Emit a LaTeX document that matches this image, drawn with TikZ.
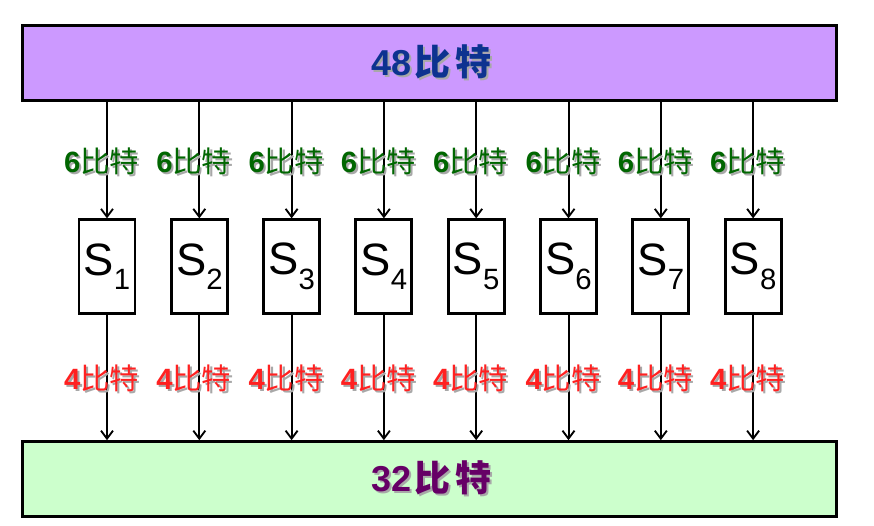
\documentclass[tikz,border=0pt]{standalone}
\usepackage{fontspec}
\setmainfont{Liberation Sans}
\newfontfamily\cjk{Noto Sans CJK SC}
\usetikzlibrary{arrows.meta}
\definecolor{topfill}{HTML}{CC99FF}
\definecolor{botfill}{HTML}{CCFFCC}
\definecolor{titleblue}{HTML}{0D3290}
\definecolor{titlepurple}{HTML}{660066}
\definecolor{lblgreen}{HTML}{006600}
\definecolor{lblred}{HTML}{FF2020}
\definecolor{shadowgray}{HTML}{A8A8A8}
\tikzset{
  bigbox/.style={draw=black, line width=2.2pt, minimum width=610.5pt, minimum height=56pt, inner sep=0pt},
  sbox/.style={draw=black, line width=2.2pt, fill=white, minimum width=42pt, minimum height=70pt, inner sep=0pt, font=\fontsize{34}{36}\selectfont},
  conn/.style={line width=1.5pt, -{Straight Barb[length=6pt,width=9pt,line width=1.4pt]}},
  lbl/.style={inner sep=0pt, font=\fontsize{22}{24}\selectfont},
  title/.style={inner sep=0pt, font=\fontsize{27}{29}\selectfont},
}
% text with a soft grey drop shadow, in one node
\newcommand{\shadowed}[2]{\makebox[0pt][l]{\hspace{1.6pt}\raisebox{-1.6pt}{\textcolor{shadowgray}{#2}}}\textcolor{#1}{#2}}
\newcommand{\bits}[1]{{\bfseries #1}{\cjk 比特}}
\newcommand{\tbits}[1]{{\bfseries #1}\hspace{2pt}{\cjk\bfseries 比\hspace{4pt}特}}
\begin{document}
\begin{tikzpicture}[x=0.75pt, y=-0.75pt]
\useasboundingbox (0,0) rectangle (874,525);
\node[bigbox, fill=topfill] (top) at (429.5,63) {};
\node[bigbox, fill=botfill] (bot) at (429.5,479) {};
\node[title] (ttop) at (431.5,63) {\shadowed{titleblue}{\tbits{48}}};
\node[title] (tbot) at (431.5,479) {\shadowed{titlepurple}{\tbits{32}}};
\foreach \i in {1,...,8} {
  \pgfmathsetmacro{\xx}{107+92.3*(\i-1)}
  \node[sbox] (s\i) at (\xx,266.5) {S\raisebox{-0.32em}{\fontsize{22}{24}\selectfont\i}};
  \coordinate (a\i) at (\xx,100);
  \coordinate (b\i) at (\xx,442);
  \draw[conn] (a\i |- top.south) -- (s\i.north);
  \draw[conn] (s\i.south) -- (b\i |- bot.north);
  \node[lbl] (g\i) at (\xx-5.5,162) {\shadowed{lblgreen}{\bits{6}}};
  \node[lbl] (r\i) at (\xx-5.5,379) {\shadowed{lblred}{\bits{4}}};
}
\end{tikzpicture}
\end{document}
